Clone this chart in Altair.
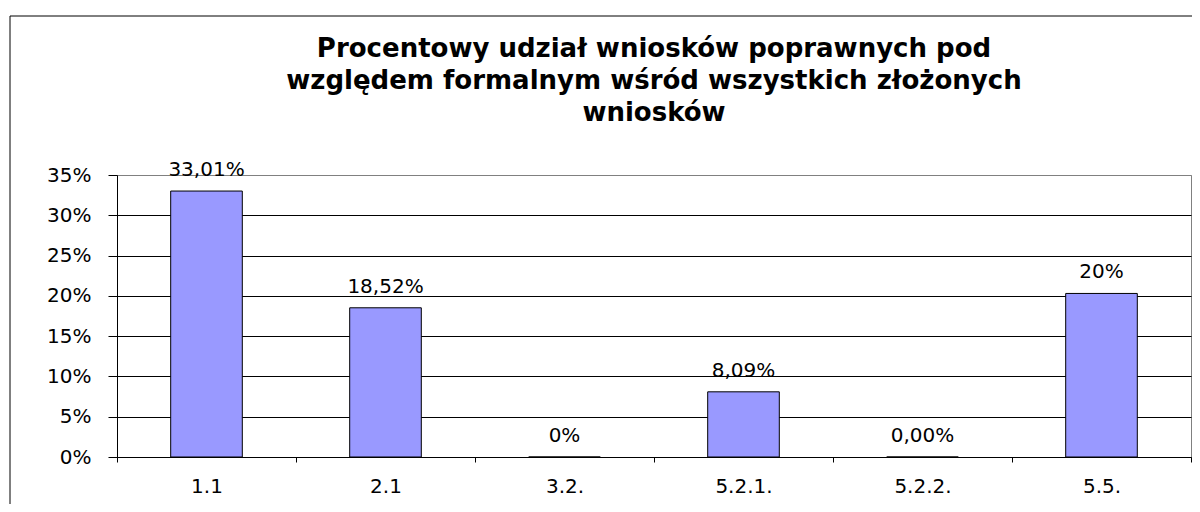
import altair as alt
import pandas as pd

categories = ["1.1", "2.1", "3.2.", "5.2.1.", "5.2.2.", "5.5."]
values = [0.3301, 0.1852, 0.0, 0.0809, 0.0, 0.203]
labels = ["33,01%", "18,52%", "0%", "8,09%", "0,00%", "20%"]
title_lines = [
    "Procentowy udział wniosków poprawnych pod",
    "względem formalnym wśród wszystkich złożonych",
    "wniosków",
]
y_ticks = [0, 0.05, 0.10, 0.15, 0.20, 0.25, 0.30, 0.35]

df = pd.DataFrame({"cat": categories, "val": values, "label": labels})

W, H = 1074, 282
FONT = "DejaVu Sans"

x = alt.X(
    "cat:N", sort=categories, title=None,
    scale=alt.Scale(paddingInner=0, paddingOuter=0),
    axis=alt.Axis(labelAngle=0, tickBand="extent", tickSize=5, tickColor="black",
                  domainColor="black", labelFontSize=20, labelFont=FONT,
                  labelColor="black", labelPadding=14, grid=False),
)
y = alt.Y(
    "val:Q", title=None, scale=alt.Scale(domain=[0, 0.35], nice=False),
    axis=alt.Axis(values=y_ticks, format=".0%", tickSize=9, tickColor="black",
                  domainColor="black", labelFontSize=20, labelFont=FONT,
                  labelColor="black", labelPadding=17, grid=True,
                  gridColor={"condition": {"test": "datum.value > 0.34", "value": "#808080"},
                             "value": "#000000"}),
)

frame = alt.Chart(pd.DataFrame({"f": [0]})).mark_rect(
    filled=False, stroke="black", strokeWidth=1
).encode(x=alt.value(-107), x2=alt.value(1200), y=alt.value(-159), y2=alt.value(600))

bars = alt.Chart(df).mark_bar(
    width=alt.RelativeBandSize(0.4), fill="#9999FF", stroke="black", strokeWidth=1
).encode(x=x, y=y)

text = alt.Chart(df).mark_text(
    baseline="middle", dy=-21, fontSize=20, font=FONT, color="black"
).encode(x=alt.X("cat:N", sort=categories), y="val:Q", text="label:N")

chart = alt.layer(frame, bars, text).properties(
    width=W, height=H,
    title=alt.Title(title_lines, font=FONT, fontSize=26, fontWeight="bold",
                    anchor="middle", frame="group", baseline="bottom",
                    offset=-136, lineHeight=32, color="black"),
    padding={"left": 109, "top": 167, "right": 1, "bottom": 47},
    autosize=alt.AutoSizeParams(type="none"),
).configure_view(stroke="#808080", strokeWidth=1)

chart.save("out.html", embed_options={"renderer": "svg", "actions": False})
